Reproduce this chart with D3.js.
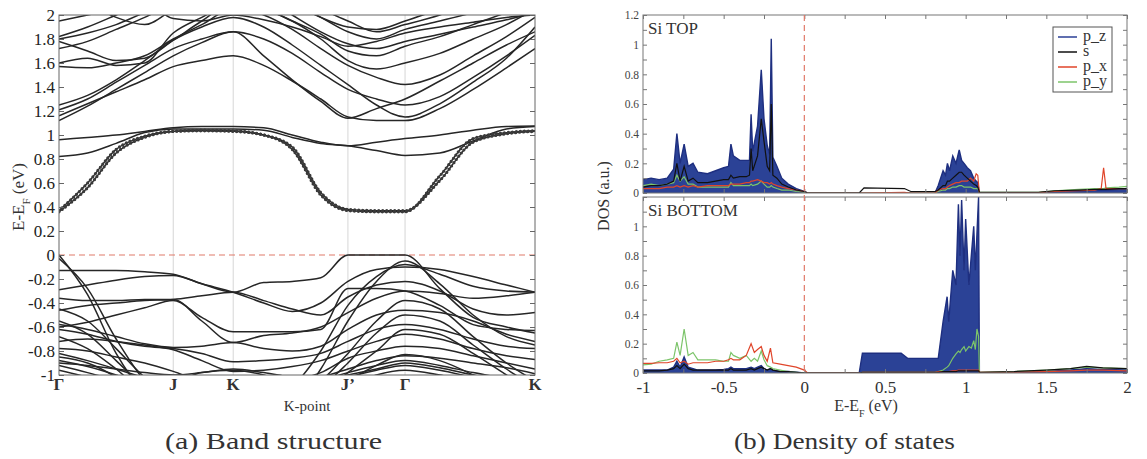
<!DOCTYPE html>
<html><head><meta charset="utf-8">
<script src="https://cdn.jsdelivr.net/npm/d3@7"></script>
<style>body{margin:0;background:#fff}svg{display:block}</style>
</head><body>
<script>
// ---------------- DATA ----------------
const kLabels = ["Γ","J","K","J’","Γ","K"];
const kLabelPos = [0, 0.24, 0.366, 0.607, 0.727, 1.0];
const kGrid = [0,0.06,0.12,0.18,0.24,0.30,0.366,0.43,0.49,0.55,0.607,0.667,0.727,0.80,0.87,0.94,1.0];
const bandTicks = [-1,-0.8,-0.6,-0.4,-0.2,0,0.2,0.4,0.6,0.8,1,1.2,1.4,1.6,1.8,2];

const upperBands = [
 [1.12,1.24,1.38,1.52,1.66,1.77,1.86,1.66,1.46,1.28,1.14,1.22,1.30,1.45,1.60,1.75,1.86],
 [1.16,1.26,1.36,1.46,1.57,1.62,1.66,1.58,1.45,1.30,1.15,1.12,1.12,1.22,1.38,1.56,1.72],
 [1.21,1.30,1.44,1.58,1.72,1.80,1.86,1.80,1.68,1.52,1.38,1.30,1.25,1.32,1.48,1.66,1.83],
 [1.25,1.33,1.46,1.62,1.79,1.90,1.98,1.90,1.75,1.58,1.42,1.25,1.15,1.26,1.44,1.64,1.90],
 [1.57,1.56,1.60,1.66,1.80,1.92,2.05,2.00,1.88,1.72,1.58,1.48,1.42,1.50,1.66,1.82,1.98],
 [1.60,1.64,1.58,1.60,1.85,1.98,2.10,2.05,1.95,1.80,1.62,1.55,1.60,1.68,1.80,1.92,2.05],
 [1.72,1.78,1.88,1.98,2.10,2.20,2.20,2.15,2.00,1.86,1.76,1.72,1.78,1.84,1.90,1.96,2.02],
 [1.78,1.70,1.62,1.64,1.79,1.95,2.10,2.05,1.95,1.84,1.70,1.66,1.74,1.82,1.92,2.02,2.10],
 [1.80,1.85,1.92,2.02,2.10,2.20,2.20,2.20,2.10,1.98,1.86,1.80,1.88,1.95,2.02,2.10,2.20],
 [1.82,1.90,2.00,2.10,2.20,2.20,2.20,2.20,2.15,2.05,1.95,1.86,1.92,2.00,2.10,2.20,2.30],
 [1.95,2.00,2.05,2.10,1.97,1.95,2.00,1.96,1.90,1.82,1.74,1.78,1.85,1.90,1.94,1.98,2.00],
 [2.20,2.10,1.98,1.92,2.05,2.20,2.30,2.25,2.10,1.98,1.90,1.88,1.95,2.05,2.15,2.25,2.30]
];
const midBands = [
 [0.96,0.98,1.00,1.03,1.06,1.07,1.07,1.06,1.00,0.94,0.91,0.94,0.97,1.00,1.04,1.07,1.075],
 [0.82,0.85,0.93,1.02,1.05,1.05,1.05,1.04,0.98,0.93,0.91,0.87,0.83,0.85,0.95,1.05,1.07]
];
const markedBands = [
 [0.37,0.60,0.88,0.99,1.03,1.035,1.03,1.00,0.90,0.52,0.38,0.37,0.37,0.62,0.94,1.01,1.03],
 [0.36,0.56,0.85,0.98,1.03,1.04,1.035,1.00,0.88,0.50,0.37,0.36,0.36,0.66,0.97,1.02,1.035]
];
const valenceBands = [
 [-0.13,-0.13,-0.13,-0.14,-0.16,-0.24,-0.31,-0.23,-0.22,-0.19,0.00,0.00,0.00,-0.28,-0.52,-0.60,-0.65],
 [0.00,-0.33,-0.82,-1.15,-1.30,-1.30,-1.30,-1.30,-1.25,-0.95,-0.55,-0.22,-0.05,-0.24,-0.50,-0.68,-0.75],
 [-0.03,-0.28,-0.70,-1.05,-1.25,-1.30,-1.30,-1.25,-1.10,-0.80,-0.42,-0.18,-0.08,-0.16,-0.26,-0.30,-0.31],
 [-0.29,-0.25,-0.21,-0.18,-0.17,-0.24,-0.31,-0.40,-0.47,-0.40,-0.22,-0.12,-0.10,-0.12,-0.18,-0.25,-0.31],
 [-0.36,-0.38,-0.38,-0.37,-0.37,-0.55,-0.73,-0.67,-0.65,-0.60,-0.48,-0.36,-0.30,-0.32,-0.36,-0.34,-0.31],
 [-0.46,-0.42,-0.40,-0.38,-0.37,-0.34,-0.31,-0.38,-0.45,-0.50,-0.35,-0.25,-0.22,-0.30,-0.45,-0.50,-0.48],
 [-0.60,-0.56,-0.50,-0.44,-0.38,-0.52,-0.64,-0.64,-0.64,-0.62,-0.28,-0.28,-0.30,-0.42,-0.58,-0.62,-0.63],
 [-0.58,-0.62,-0.68,-0.74,-0.77,-0.76,-0.73,-0.78,-0.80,-0.76,-0.62,-0.50,-0.46,-0.48,-0.55,-0.66,-0.72],
 [-0.62,-0.66,-0.72,-0.76,-0.78,-0.82,-0.89,-0.88,-0.86,-0.82,-0.72,-0.62,-0.58,-0.62,-0.70,-0.76,-0.78],
 [-0.72,-0.70,-0.72,-0.75,-0.79,-0.88,-0.97,-0.96,-0.93,-0.88,-0.80,-0.72,-0.66,-0.70,-0.78,-0.84,-0.87],
 [-0.78,-0.80,-0.85,-0.90,-0.97,-1.05,-1.08,-1.10,-1.05,-0.98,-0.86,-0.80,-0.76,-0.78,-0.84,-0.90,-0.95],
 [-0.82,-0.88,-0.95,-1.02,-1.05,-0.98,-0.96,-1.00,-1.08,-1.02,-0.95,-0.88,-0.84,-0.86,-0.90,-0.94,-0.99],
 [-0.88,-0.93,-1.00,-1.08,-1.15,-1.20,-1.20,-1.20,-1.15,-1.05,-0.98,-0.92,-0.88,-0.92,-0.98,-1.03,-1.08],
 [-0.92,-0.98,-1.05,-1.15,-1.20,-1.20,-1.20,-1.20,-1.20,-1.10,-1.02,-0.96,-0.92,-0.96,-1.02,-1.08,-1.12],
 [-0.96,-1.02,-1.10,-1.20,-1.20,-1.20,-1.20,-1.20,-1.20,-1.20,-1.10,-1.00,-0.96,-1.00,-1.06,-1.12,-1.15],
 [-0.45,-0.55,-0.78,-1.02,-1.20,-1.25,-1.25,-1.25,-1.20,-1.05,-0.82,-0.55,-0.38,-0.45,-0.68,-0.90,-1.05],
 [-0.55,-0.66,-0.88,-1.10,-1.25,-1.25,-1.25,-1.25,-1.20,-1.10,-0.90,-0.65,-0.50,-0.55,-0.75,-0.95,-1.10],
 [-0.68,-0.78,-0.95,-1.15,-1.25,-1.25,-1.25,-1.25,-1.20,-1.15,-0.98,-0.80,-0.62,-0.66,-0.82,-1.00,-1.15],
 [-0.85,-0.90,-1.02,-1.20,-1.25,-1.25,-1.25,-1.25,-1.25,-1.20,-1.05,-0.92,-0.83,-0.88,-1.00,-1.15,-1.20],
 [-0.90,-0.92,-0.95,-0.98,-1.00,-0.98,-0.95,-0.98,-1.02,-1.05,-1.00,-0.95,-0.90,-0.94,-1.00,-1.05,-1.10]
];

// DOS — Si TOP
const topE  = [-1.00,-0.95,-0.90,-0.85,-0.81,-0.79,-0.77,-0.745,-0.72,-0.69,-0.66,-0.60,-0.55,-0.50,-0.47,-0.455,-0.44,-0.40,-0.36,-0.34,-0.33,-0.32,-0.29,-0.267,-0.25,-0.23,-0.215,-0.205,-0.195,-0.17,-0.14,-0.10,-0.05,0.00,0.02,0.34,0.37,0.62,0.66,0.81,0.83,0.86,0.875,0.887,0.90,0.92,0.94,0.96,0.975,0.99,1.01,1.03,1.05,1.065,1.075,1.085,1.45,1.55,1.70,1.80,1.84,1.855,1.87,1.95,2.00];
const topPz = [0.09,0.10,0.09,0.10,0.16,0.40,0.20,0.33,0.18,0.20,0.14,0.13,0.15,0.17,0.18,0.33,0.25,0.22,0.22,0.22,0.53,0.28,0.45,0.83,0.50,0.32,0.26,1.04,0.24,0.18,0.10,0.06,0.03,0.01,0,0,0,0,0,0,0.05,0.15,0.12,0.20,0.15,0.25,0.20,0.29,0.22,0.20,0.17,0.15,0.10,0.08,0.07,0,0,0.01,0.015,0.02,0.02,0.02,0.02,0.025,0.03];
const topS  = [0.04,0.05,0.05,0.06,0.08,0.20,0.08,0.18,0.08,0.10,0.07,0.07,0.08,0.09,0.09,0.12,0.10,0.11,0.11,0.12,0.30,0.15,0.25,0.50,0.35,0.18,0.15,0.60,0.12,0.10,0.06,0.04,0.02,0.01,0,0,0.035,0.03,0.01,0.01,0.02,0.05,0.05,0.08,0.08,0.10,0.12,0.14,0.14,0.12,0.10,0.08,0.06,0.05,0.04,0.005,0.005,0.015,0.02,0.025,0.025,0.025,0.025,0.03,0.03];
const topPx = [0.03,0.03,0.03,0.04,0.04,0.05,0.04,0.05,0.04,0.05,0.04,0.05,0.05,0.05,0.05,0.06,0.06,0.06,0.07,0.07,0.08,0.08,0.09,0.08,0.07,0.07,0.06,0.07,0.06,0.05,0.04,0.03,0.02,0.01,0,0,0,0.005,0,0,0.02,0.03,0.03,0.04,0.05,0.06,0.07,0.07,0.08,0.08,0.08,0.10,0.08,0.13,0.12,0,0.003,0.01,0.015,0.02,0.03,0.17,0.03,0.03,0.03];
const topPy = [0.05,0.06,0.05,0.06,0.07,0.12,0.08,0.11,0.06,0.06,0.04,0.04,0.04,0.04,0.04,0.07,0.05,0.05,0.05,0.05,0.06,0.05,0.06,0.08,0.06,0.04,0.04,0.05,0.04,0.03,0.02,0.02,0.01,0.005,0,0,0,0,0,0,0.01,0.02,0.02,0.03,0.03,0.04,0.04,0.05,0.05,0.04,0.04,0.04,0.03,0.03,0.03,0.005,0.005,0.015,0.025,0.03,0.03,0.03,0.035,0.04,0.045];

// DOS — Si BOTTOM
const botE  = [-1.00,-0.95,-0.90,-0.85,-0.81,-0.79,-0.77,-0.745,-0.72,-0.69,-0.66,-0.60,-0.55,-0.50,-0.47,-0.455,-0.44,-0.40,-0.36,-0.33,-0.31,-0.29,-0.267,-0.25,-0.23,-0.21,-0.195,-0.15,-0.10,-0.05,0.00,0.02,0.34,0.36,0.60,0.64,0.81,0.83,0.86,0.885,0.895,0.92,0.94,0.955,0.965,0.975,0.99,1.00,1.02,1.035,1.05,1.06,1.07,1.08,1.085,1.30,1.50,1.65,1.75,1.85,2.00];
const botPz = [0.02,0.02,0.02,0.02,0.04,0.08,0.04,0.11,0.04,0.03,0.02,0.02,0.02,0.025,0.03,0.04,0.03,0.03,0.03,0.04,0.03,0.04,0.05,0.03,0.02,0.03,0.02,0.01,0.01,0.005,0,0,0,0.135,0.135,0.10,0.10,0.10,0.35,0.52,0.35,0.70,0.60,1.15,0.80,1.18,0.70,1.05,0.60,0.80,1.00,0.70,0.95,1.20,0,0,0.01,0.02,0.03,0.025,0.02];
const botS  = [0.015,0.015,0.015,0.02,0.03,0.05,0.03,0.06,0.03,0.02,0.02,0.02,0.02,0.02,0.02,0.03,0.02,0.02,0.02,0.03,0.02,0.03,0.04,0.03,0.02,0.03,0.02,0.01,0.01,0.005,0,0,0,0.005,0.005,0.005,0.005,0.005,0.01,0.01,0.01,0.01,0.01,0.015,0.015,0.015,0.015,0.015,0.015,0.015,0.015,0.015,0.015,0.015,0.005,0.01,0.02,0.03,0.045,0.035,0.03];
const botPx = [0.065,0.065,0.07,0.07,0.08,0.10,0.07,0.08,0.06,0.07,0.07,0.07,0.08,0.08,0.09,0.10,0.09,0.09,0.12,0.20,0.14,0.16,0.18,0.12,0.08,0.17,0.07,0.06,0.05,0.04,0.02,0,0,0.005,0.005,0.005,0.005,0.01,0.01,0.01,0.01,0.015,0.015,0.02,0.02,0.02,0.02,0.02,0.02,0.02,0.02,0.02,0.02,0.02,0.005,0.005,0.01,0.015,0.02,0.02,0.015];
const botPy = [0.055,0.06,0.08,0.09,0.10,0.21,0.12,0.30,0.12,0.14,0.09,0.09,0.09,0.08,0.08,0.14,0.12,0.10,0.12,0.08,0.10,0.08,0.15,0.09,0.05,0.04,0.03,0.02,0.01,0.005,0,0,0,0.005,0.005,0.005,0.005,0.01,0.02,0.04,0.05,0.10,0.13,0.15,0.14,0.16,0.18,0.15,0.18,0.17,0.22,0.16,0.30,0.25,0.005,0.01,0.02,0.03,0.04,0.035,0.03];

const dosXTicks = [-1,-0.5,0,0.5,1,1.5,2];
const legendNames = ["p_z","s","p_x","p_y"];
const legendColors = ["#2b3f96","#111111","#e0452a","#7cc46a"];

// ---------------- DRAW ----------------
const W = 1147, H = 459;
const SERIF = "'Liberation Serif', 'DejaVu Serif', serif";
const svg = d3.select("body").append("svg").attr("width", W).attr("height", H)
  .attr("font-family", SERIF).style("font-family", SERIF);
svg.append("rect").attr("width", W).attr("height", H).attr("fill", "#fff");
const fmt = d => String(+d.toFixed(1));
const styleText = sel => sel.attr("font-family", SERIF).style("font-family", SERIF);

// ===== Band structure =====
const bx = d3.scaleLinear().domain([0,1]).range([59,535]);
const by = d3.scaleLinear().domain([-1,2]).range([375,15]);
svg.append("clipPath").attr("id","cpB").append("rect")
  .attr("x",bx(0)).attr("y",by(2)).attr("width",bx(1)-bx(0)).attr("height",by(-1)-by(2));
const gB = svg.append("g");
gB.selectAll("line.vg").data(kLabelPos.slice(1,-1)).join("line")
  .attr("x1",d=>bx(d)).attr("x2",d=>bx(d)).attr("y1",by(2)).attr("y2",by(-1))
  .attr("stroke","#d6d6d6").attr("stroke-width",1);
gB.append("line").attr("x1",bx(0)).attr("x2",bx(1)).attr("y1",by(0)).attr("y2",by(0))
  .attr("stroke","#e07a6a").attr("stroke-width",1.2).attr("stroke-dasharray","6,4");
const bandLine = d3.line().x((d,i)=>bx(kGrid[i])).y(d=>by(d)).curve(d3.curveMonotoneX);
const gBands = gB.append("g").attr("clip-path","url(#cpB)");
gBands.selectAll("path.band").data(upperBands.concat(midBands, valenceBands)).join("path")
  .attr("d",bandLine).attr("fill","none").attr("stroke","#262626").attr("stroke-width",1.5);
gBands.selectAll("path.mk").data(markedBands).join("path")
  .attr("d",bandLine).attr("fill","none").attr("stroke","#262626").attr("stroke-width",1.4);
gBands.selectAll("path.mkd").data(markedBands).join("path")
  .attr("d",bandLine).attr("fill","none").attr("stroke","#3a3a3a").attr("stroke-width",3.2)
  .attr("stroke-linecap","round").attr("stroke-dasharray","0,4");
gB.append("rect").attr("x",bx(0)).attr("y",by(2)).attr("width",bx(1)-bx(0)).attr("height",by(-1)-by(2))
  .attr("fill","none").attr("stroke","#666").attr("stroke-width",1);
const axL = gB.append("g").attr("transform",`translate(${bx(0)},0)`)
  .call(d3.axisLeft(by).tickValues(bandTicks).tickFormat(fmt).tickSize(-5).tickPadding(4));
axL.select(".domain").remove();
styleText(axL.selectAll("text")).style("font-size","17px").attr("fill","#222");
axL.selectAll("line").attr("stroke","#666");
const axR = gB.append("g").attr("transform",`translate(${bx(1)},0)`)
  .call(d3.axisRight(by).tickValues(bandTicks).tickFormat("").tickSize(-5));
axR.select(".domain").remove(); axR.selectAll("line").attr("stroke","#666");
styleText(gB.selectAll("text.kl").data(kLabels).join("text"))
  .attr("x",(d,i)=>bx(kLabelPos[i])).attr("y",390).attr("text-anchor","middle")
  .style("font-size","17px").style("font-weight","bold").attr("fill","#333").text(d=>d);
styleText(gB.append("text")).attr("x",307).attr("y",411).attr("text-anchor","middle").style("font-size","15px").attr("fill","#333").text("K-point");
styleText(gB.append("text")).attr("transform","translate(24,197) rotate(-90)").attr("text-anchor","middle")
  .style("font-size","17px").attr("fill","#333").html('E-E<tspan baseline-shift="sub" font-size="11px">F</tspan> (eV)');
styleText(svg.append("text")).attr("x",165).attr("y",449).attr("textLength",217).attr("lengthAdjust","spacingAndGlyphs")
  .style("font-size","23px").attr("fill","#333").text("(a) Band structure");

// ===== DOS =====
const dx = d3.scaleLinear().domain([-1,2]).range([643,1127]);
const panels = [
  {name:"Si TOP", e:topE, pz:topPz, s:topS, px:topPx, py:topPy, y0:193, y1:15, labels:[0,0.2,0.4,0.6,0.8,1,1.2], xl:false},
  {name:"Si BOTTOM", e:botE, pz:botPz, s:botS, px:botPx, py:botPy, y0:373, y1:197, labels:[0,0.2,0.4,0.6,0.8,1], xl:true}
];
panels.forEach((p,pi)=>{
  const y = d3.scaleLinear().domain([0,1.2]).range([p.y0,p.y1]);
  const g = svg.append("g");
  const cid = "cpD"+pi;
  svg.append("clipPath").attr("id",cid).append("rect").attr("x",dx(-1)).attr("y",p.y1).attr("width",dx(2)-dx(-1)).attr("height",p.y0-p.y1);
  const gc = g.append("g").attr("clip-path",`url(#${cid})`);
  const pts = p.e.map((e,i)=>({e, pz:p.pz[i], s:p.s[i], px:p.px[i], py:p.py[i]}));
  gc.append("path").datum(pts).attr("fill","#2b4296")
    .attr("d",d3.area().x(d=>dx(d.e)).y0(y(0)).y1(d=>y(d.pz)));
  gc.append("path").datum(pts).attr("fill","none").attr("stroke","#1e2f80").attr("stroke-width",1.4)
    .attr("d",d3.line().x(d=>dx(d.e)).y(d=>y(d.pz)));
  [["py",legendColors[3]],["px",legendColors[2]],["s",legendColors[1]]].forEach(([k,c])=>{
    gc.append("path").datum(pts).attr("fill","none").attr("stroke",c).attr("stroke-width",1.2)
      .attr("d",d3.line().x(d=>dx(d.e)).y(d=>y(d[k])));
  });
  g.append("rect").attr("x",dx(-1)).attr("y",p.y1).attr("width",dx(2)-dx(-1)).attr("height",p.y0-p.y1)
    .attr("fill","none").attr("stroke","#777").attr("stroke-width",1);
  const yt = d3.range(0,1.21,0.1);
  const aL = g.append("g").attr("transform",`translate(${dx(-1)},0)`)
    .call(d3.axisLeft(y).tickValues(yt).tickSize(-4).tickPadding(4)
      .tickFormat(d=> p.labels.some(v=>Math.abs(v-d)<1e-6) ? fmt(d) : ""));
  aL.select(".domain").remove(); aL.selectAll("line").attr("stroke","#777");
  styleText(aL.selectAll("text")).style("font-size","11.5px").attr("fill","#444");
  const aR = g.append("g").attr("transform",`translate(${dx(2)},0)`)
    .call(d3.axisRight(y).tickValues(yt).tickSize(-4).tickFormat(""));
  aR.select(".domain").remove(); aR.selectAll("line").attr("stroke","#777");
  const xt = d3.range(-1,2.01,0.25);
  const aT = g.append("g").attr("transform",`translate(0,${p.y1})`)
    .call(d3.axisTop(dx).tickValues(xt).tickSize(-4).tickFormat(""));
  aT.select(".domain").remove(); aT.selectAll("line").attr("stroke","#777");
  const aB = g.append("g").attr("transform",`translate(0,${p.y0})`)
    .call(d3.axisBottom(dx).tickValues(xt).tickSize(-4).tickPadding(8)
      .tickFormat(d=> (p.xl && dosXTicks.some(v=>Math.abs(v-d)<1e-6)) ? fmt(d) : ""));
  aB.select(".domain").remove(); aB.selectAll("line").attr("stroke","#777");
  styleText(aB.selectAll("text")).style("font-size","17px").attr("fill","#333");
  styleText(g.append("text")).attr("x",648).attr("y",p.y1+19).style("font-size","17px").attr("fill","#333").text(p.name);
});
svg.append("line").attr("x1",dx(0)).attr("x2",dx(0)).attr("y1",15).attr("y2",373)
  .attr("stroke","#e07a6a").attr("stroke-width",1.2).attr("stroke-dasharray","6,4");
const lg = svg.append("g");
lg.append("rect").attr("x",1053).attr("y",27).attr("width",59).attr("height",65)
  .attr("fill","#fff").attr("stroke","#555").attr("stroke-width",1);
legendNames.forEach((n,i)=>{
  const yy = 37 + i*15;
  lg.append("line").attr("x1",1058).attr("x2",1077).attr("y1",yy).attr("y2",yy)
    .attr("stroke",legendColors[i]).attr("stroke-width",1.5);
  styleText(lg.append("text")).attr("x",1083).attr("y",yy+4).style("font-size","16px").attr("fill","#333").text(n);
});
styleText(svg.append("text")).attr("transform","translate(609,196) rotate(-90)").attr("text-anchor","middle")
  .style("font-size","16px").attr("fill","#333").text("DOS (a.u.)");
styleText(svg.append("text")).attr("x",866).attr("y",411).attr("text-anchor","middle").style("font-size","16px").attr("fill","#333")
  .html('E-E<tspan baseline-shift="sub" font-size="10px">F</tspan> (eV)');
styleText(svg.append("text")).attr("x",734).attr("y",449).attr("textLength",221).attr("lengthAdjust","spacingAndGlyphs")
  .style("font-size","23px").attr("fill","#333").text("(b) Density of states");
</script>
</body></html>
